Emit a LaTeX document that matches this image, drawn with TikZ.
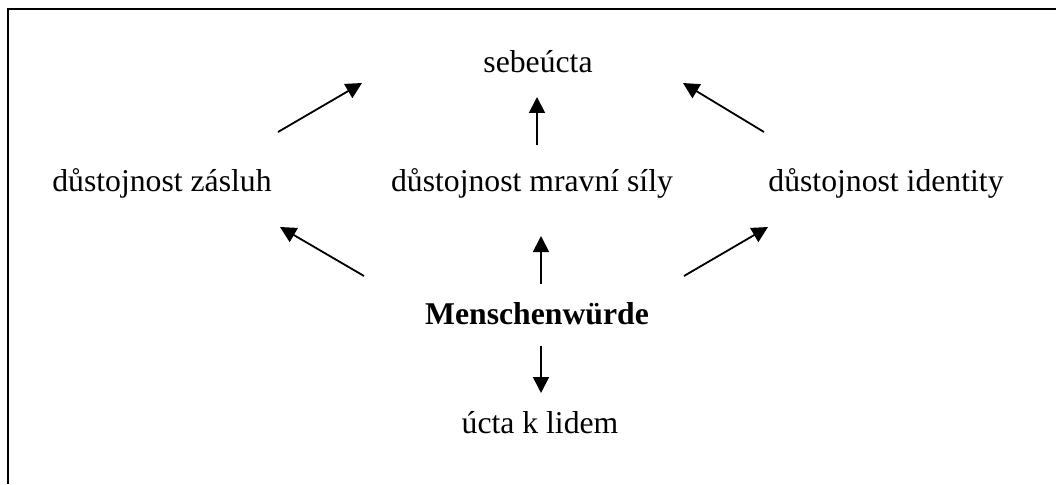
\documentclass[tikz,border=0pt]{standalone}
\usepackage{fontspec}
\setmainfont{Liberation Serif}
\usetikzlibrary{arrows.meta}
\tikzstyle{every node}=[inner sep=0pt,anchor=base,font=\fontsize{31.7}{38}\selectfont]
\tikzstyle{pfeil}=[line width=1.8pt,-{Triangle[length=16pt,width=16pt]}]

\begin{document}
\begin{tikzpicture}[x=1pt,y=-1pt]
  \useasboundingbox (0,0) rectangle (1056,484);
  % Rahmen (nur oben und links sichtbar)
  \draw[line width=2pt] (8,484) -- (8,9.5) -- (1056,9.5);

  \node (sebeucta) at (538,73) {sebeúcta};
  \node (zasluhy)  at (162,191) {důstojnost zásluh};
  \node (mravni)   at (532,191) {důstojnost mravní síly};
  \node (identita) at (886,191) {důstojnost identity};
  \node (wuerde)   at (537,324) {\bfseries Menschenwürde};
  \node (lide)     at (540,433) {úcta k lidem};

  % Pfeilenden
  \coordinate (zs0) at (278,132);  \coordinate (zs1) at (362,83);
  \coordinate (ms0) at (537,145);  \coordinate (ms1) at (537,97);
  \coordinate (is0) at (764,132);  \coordinate (is1) at (683,83);
  \coordinate (wz0) at (364,276);  \coordinate (wz1) at (280,227);
  \coordinate (wm0) at (541,284);  \coordinate (wm1) at (541,236);
  \coordinate (wi0) at (684,276);  \coordinate (wi1) at (768,227);
  \coordinate (wl0) at (541,346);  \coordinate (wl1) at (541,393);

  \draw[pfeil] (zs0) -- (zs1);
  \draw[pfeil] (ms0) -- (ms1);
  \draw[pfeil] (is0) -- (is1);
  \draw[pfeil] (wz0) -- (wz1);
  \draw[pfeil] (wm0) -- (wm1);
  \draw[pfeil] (wi0) -- (wi1);
  \draw[pfeil] (wl0) -- (wl1);
\end{tikzpicture}
\end{document}
